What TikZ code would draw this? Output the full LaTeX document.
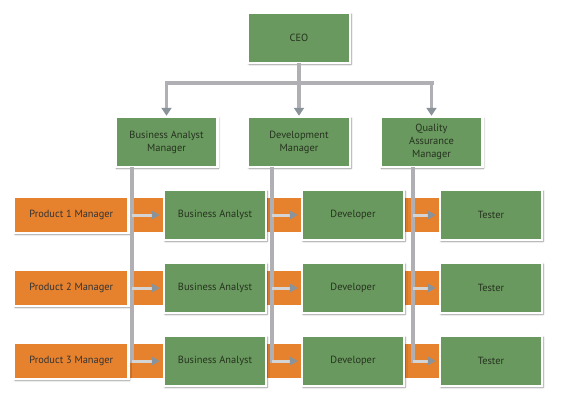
\documentclass[tikz,border=0pt]{standalone}
\usepackage{fontspec}
\setmainfont{PT Sans}
\usetikzlibrary{positioning,arrows.meta,shadows.blur,backgrounds}
\definecolor{boxgreen}{HTML}{6A995F}
\definecolor{boxorange}{HTML}{E6822E}
\definecolor{boxtext}{HTML}{25321F}
\definecolor{linegray}{HTML}{B0B0B4}
\definecolor{tipgray}{HTML}{8A929A}

\begin{document}
\begin{tikzpicture}[x=1pt,y=1pt,
    green box/.style={fill=boxgreen,draw=white,line width=2.5pt,
      minimum width=102pt,minimum height=50pt,align=center,text=boxtext,
      font=\fontsize{10.4}{13}\selectfont,
      blur shadow={shadow blur steps=6,shadow xshift=1pt,shadow yshift=-1.2pt,shadow opacity=45}},
    orange box/.style={green box,fill=boxorange,minimum width=114.5pt,minimum height=36pt,text=black!80},
    band/.style={fill=boxorange},
    link/.style={draw=linegray,line width=3.5pt,line cap=rect},
    down/.style={link,-{Triangle[width=10pt,length=8pt,color=tipgray]}},
    feed/.style={draw=black!17,line width=3pt,shorten >=3pt,-{Triangle[width=8.5pt,length=8pt,color=tipgray]}}]

    \useasboundingbox (0,0) rectangle (564,400);

    \node[green box] (ceo) at (299,362) {CEO};
    \node[green box] (devm) at (299,258) {Development\\Manager};
    \node[green box] (bam) [left=28pt of devm] {Business Analyst\\Manager};
    \node[green box] (qam) [right=28pt of devm] {Quality\\Assurance\\Manager};

    \node[green box] (ba1) at (215,185) {Business Analyst};
    \node[green box] (dev1) [right=33.5pt of ba1] {Developer};
    \node[green box] (te1) [right=33.5pt of dev1] {Tester};
    \node[orange box] (p1) [left=33pt of ba1] {Product 1 Manager};

    \node[green box] (ba2) [below=20.5pt of ba1] {Business Analyst};
    \node[green box] (dev2) [right=33.5pt of ba2] {Developer};
    \node[green box] (te2) [right=33.5pt of dev2] {Tester};
    \node[orange box] (p2) [left=33pt of ba2] {Product 2 Manager};

    \node[green box] (ba3) [below=20.5pt of ba2] {Business Analyst};
    \node[green box] (dev3) [right=33.5pt of ba3] {Developer};
    \node[green box] (te3) [right=33.5pt of dev3] {Tester};
    \node[orange box] (p3) [left=33pt of ba3] {Product 3 Manager};

    % orange bands behind each row
    \begin{pgfonlayer}{background}
      \path[band] ([yshift=-2pt]p1.north west) rectangle ([xshift=4pt,yshift=2pt]p1.south -| te1.west);
      \path[band] ([yshift=-2pt]p2.north west) rectangle ([xshift=4pt,yshift=2pt]p2.south -| te2.west);
      \path[band] ([yshift=-2pt]p3.north west) rectangle ([xshift=4pt,yshift=2pt]p3.south -| te3.west);
    \end{pgfonlayer}

    % CEO to managers
    \coordinate (bus) at ([yshift=-19pt]ceo.south);
    \draw[link] (ceo.south) -- (bus);
    \draw[link,line width=4pt] (bam |- bus) -- (qam |- bus);
    \path
    (bam |- bus) edge[down] (bam.north)
    (devm |- bus) edge[down] (devm.north)
    (qam |- bus) edge[down] (qam.north);

    % managers down the rows
    \coordinate (l1) at ([xshift=-31pt]ba1.west);
    \coordinate (l2) at ([xshift=-29pt]dev1.west);
    \coordinate (l3) at ([xshift=-26pt]te1.west);
    \draw[link] (bam.south -| l1) -- (l1 |- ba3.west);
    \draw[link] (devm.south -| l2) -- (l2 |- dev3.west);
    \draw[link] (qam.south -| l3) -- (l3 |- te3.west);

    \path
    (l1 |- ba1.west) edge[feed] (ba1.west)
    (l1 |- ba2.west) edge[feed] (ba2.west)
    (l1 |- ba3.west) edge[feed] (ba3.west)

    (l2 |- dev1.west) edge[feed] (dev1.west)
    (l2 |- dev2.west) edge[feed] (dev2.west)
    (l2 |- dev3.west) edge[feed] (dev3.west)

    (l3 |- te1.west) edge[feed] (te1.west)
    (l3 |- te2.west) edge[feed] (te2.west)
    (l3 |- te3.west) edge[feed] (te3.west);
  \end{tikzpicture}
\end{document}
